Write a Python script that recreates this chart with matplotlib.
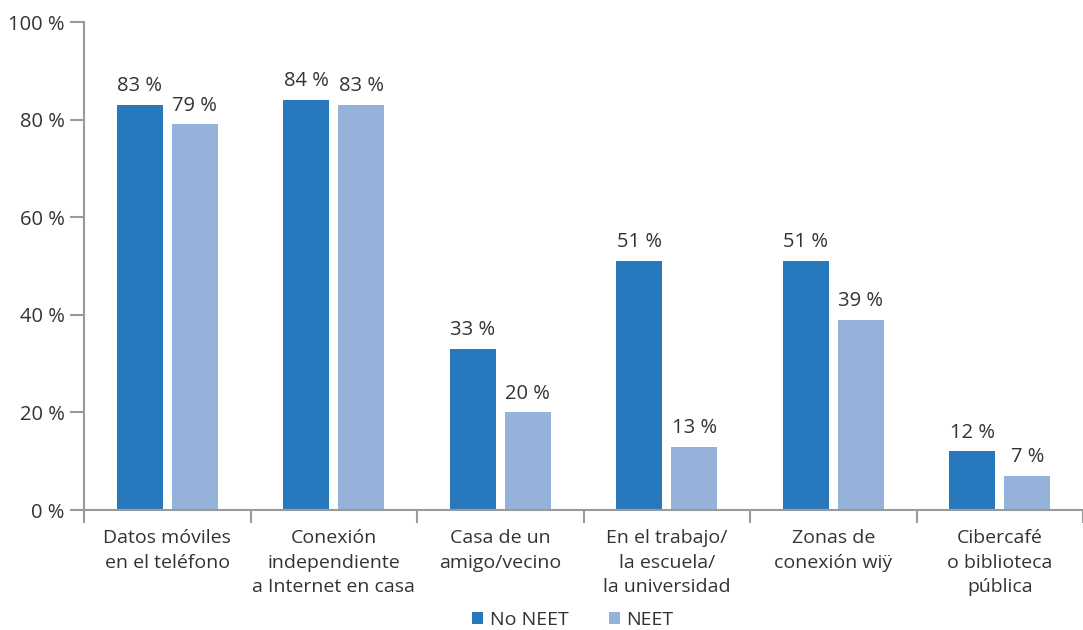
import numpy as np
import matplotlib.pyplot as plt

categories = ['Datos móviles\nen el teléfono', 'Conexión\nindependiente\na Internet en casa',
              'Casa de un\namigo/vecino', 'En el trabajo/\nla escuela/\nla universidad',
              'Zonas de\nconexión wiÿ', 'Cibercafé\no biblioteca\npública']
no_neet = [83, 84, 33, 51, 51, 12]
neet = [79, 83, 20, 13, 39, 7]
yticks = [0, 20, 40, 60, 80, 100]

plt.rcParams['font.family'] = ['Open Sans', 'DejaVu Sans']
text_color = '#333333'
axis_color = '#9a9a9a'
dark = '#2878be'
light = '#95b2da'

fig = plt.figure(figsize=(10.83, 6.3), dpi=100)
ax = fig.add_axes([84 / 1083, 1 - 510 / 630, 1 - 84 / 1083, 488 / 630])

x = np.arange(len(categories))
w = 0.275
ax.bar(x - 0.165, no_neet, w, color=dark, label='No NEET')
ax.bar(x + 0.165, neet, w, color=light, label='NEET')

for xi, v in zip(x, no_neet):
    ax.text(xi - 0.165, v + 1.8, f'{v} %', ha='center', va='bottom', fontsize=14.5, color=text_color)
for xi, v in zip(x, neet):
    ax.text(xi + 0.165, v + 1.8, f'{v} %', ha='center', va='bottom', fontsize=14.5, color=text_color)

ax.set_ylim(0, 100)
ax.set_xlim(-0.5, 5.5 - 12 / 168.5)
ax.set_yticks(yticks)
ax.set_yticklabels([f'{t} %' for t in yticks], fontsize=14.5, color=text_color)
ax.tick_params(axis='y', length=10, width=1.5, color=axis_color, pad=4)

ax.set_xticks(x)
ax.set_xticklabels(categories, fontsize=14, color=text_color, linespacing=1.45)
ax.tick_params(axis='x', which='major', length=0, pad=14)
ax.set_xticks(np.arange(-0.5, 6, 1.0), minor=True)
ax.tick_params(axis='x', which='minor', length=9, width=1.5, color=axis_color)

for s in ['top', 'right']:
    ax.spines[s].set_visible(False)
for s in ['left', 'bottom']:
    ax.spines[s].set_color(axis_color)
    ax.spines[s].set_linewidth(1.5)

leg = fig.legend(loc='center left', bbox_to_anchor=(472 / 1083, 1 - 620 / 630), ncol=2, frameon=False,
                 fontsize=14, handlelength=0.55, handleheight=0.55, handletextpad=0.35,
                 columnspacing=2.1, borderpad=0, borderaxespad=0)
for t in leg.get_texts():
    t.set_color(text_color)

fig.savefig('out.png', dpi=100)
